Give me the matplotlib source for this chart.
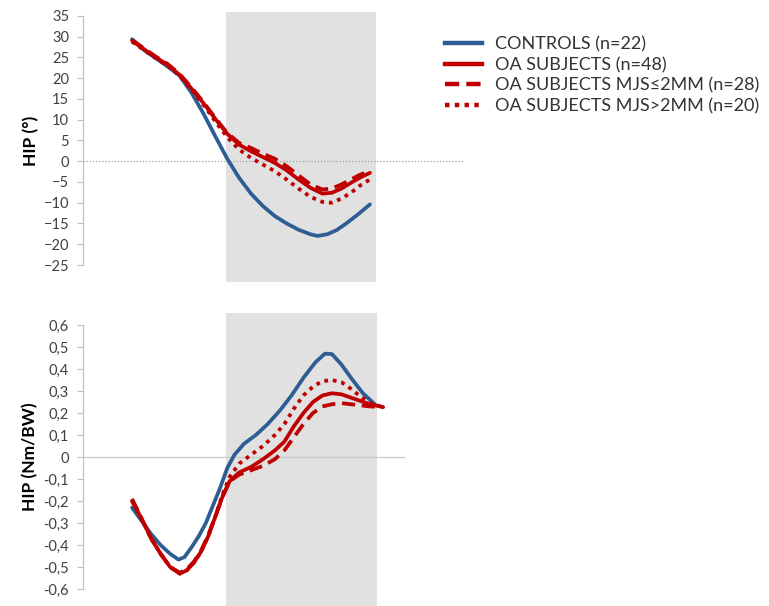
import matplotlib
matplotlib.use("Agg")
from matplotlib import pyplot as plt
from matplotlib.lines import Line2D

plt.rcParams['font.family'] = ['Lato', 'DejaVu Sans']

# --- data: % of cycle vs value ---
# top panel: hip angle (deg)
top_x_blue = [0, 5, 10, 15, 20, 25, 30, 35, 40, 45, 50, 55, 60, 65, 70, 75, 78, 82, 86, 90, 95, 100]
top_blue = [29.4, 26.8, 24.8, 22.8, 20.6, 16.5, 11.5, 6.0, 0.6, -4.0, -7.8, -10.8, -13.2, -15.0,
            -16.5, -17.6, -18.0, -17.6, -16.6, -15.0, -12.8, -10.4]

top_x_red = [0, 5, 10, 15, 20, 25, 30, 35, 40, 45, 50, 55, 60, 65, 70, 75, 80, 84, 88, 92, 96, 100]
top_oa = [29.0, 27.0, 25.0, 23.2, 20.8, 17.5, 14.0, 10.2, 6.6, 4.0, 2.4, 1.0, -0.4, -2.2,
          -4.4, -6.4, -7.8, -7.6, -6.6, -5.2, -3.9, -2.8]
top_le2 = [29.2, 27.2, 25.2, 23.4, 21.0, 17.8, 14.2, 10.4, 6.8, 4.4, 3.2, 1.8, 0.6, -1.2,
           -3.4, -5.6, -6.8, -6.6, -5.6, -4.4, -3.2, -2.4]
top_gt2 = [28.8, 26.8, 24.8, 23.0, 20.6, 17.2, 13.6, 9.6, 5.8, 2.8, 0.8, -0.8, -2.4, -4.4,
           -6.6, -8.6, -9.8, -10.0, -9.0, -7.6, -5.8, -4.4]

# bottom panel: hip moment (Nm/BW)
bot_x_blue = [0, 4, 8, 12, 16, 19.5, 22, 25, 28, 31, 34, 37, 40, 43, 47, 52, 57, 62, 67, 72,
              77, 81, 84, 88, 92, 97, 102]
bot_blue = [-0.23, -0.29, -0.35, -0.40, -0.44, -0.466, -0.455, -0.41, -0.36, -0.30, -0.22, -0.14,
            -0.05, 0.01, 0.06, 0.10, 0.15, 0.21, 0.28, 0.36, 0.43, 0.47, 0.468, 0.42, 0.36,
            0.29, 0.24]

bot_x_red = [0, 4, 8, 12, 16, 20, 23, 26, 29, 32, 35, 38, 41, 45, 50, 55, 60, 64, 68, 72, 76,
             80, 84, 88, 92, 96, 100, 105.5]
bot_oa = [-0.20, -0.28, -0.37, -0.44, -0.50, -0.53, -0.515, -0.48, -0.43, -0.36, -0.27, -0.18,
          -0.11, -0.07, -0.045, -0.01, 0.03, 0.07, 0.14, 0.20, 0.25, 0.28, 0.29, 0.285, 0.27,
          0.255, 0.24, 0.227]
bot_le2 = [-0.19, -0.28, -0.37, -0.44, -0.50, -0.525, -0.51, -0.475, -0.425, -0.355, -0.27,
           -0.18, -0.11, -0.08, -0.06, -0.04, -0.01, 0.03, 0.09, 0.15, 0.20, 0.23, 0.24, 0.245,
           0.24, 0.235, 0.23, 0.227]
bot_gt2 = [-0.20, -0.28, -0.37, -0.44, -0.50, -0.53, -0.515, -0.48, -0.43, -0.36, -0.27, -0.17,
           -0.09, -0.03, 0.01, 0.05, 0.10, 0.15, 0.22, 0.28, 0.32, 0.345, 0.35, 0.34, 0.31,
           0.275, 0.245, 0.227]

labels = ["CONTROLS (n=22)", "OA SUBJECTS (n=48)",
          "OA SUBJECTS MJS\u22642MM (n=28)", "OA SUBJECTS MJS>2MM (n=20)"]

blue = '#2e5d94'
red = '#c00000'
grey = '#bfbfbf'
txt = '#404040'
LW = 2.7

fig = plt.figure(figsize=(7.69, 6.06), dpi=100)
ax1 = fig.add_axes([0.108, 0.5627, 0.494, 0.411])
ax2 = fig.add_axes([0.108, 0.028, 0.4187, 0.4356])

def style(ax):
    for s in ['top', 'right', 'bottom']:
        ax.spines[s].set_visible(False)
    ax.spines['left'].set_color(grey)
    ax.tick_params(axis='y', colors=grey, labelcolor=txt, labelsize=10.5, length=4, pad=6)
    ax.set_xticks([])

# top panel
ax1.axvspan(39.5, 102.5, ymin=-0.07, ymax=1.016, color='#e1e1e1', lw=0, clip_on=False, zorder=0)
ax1.axhline(0, color='#a0a0a0', lw=0.9, ls=(0, (1, 1.5)), zorder=1)
ax1.plot(top_x_blue, top_blue, color=blue, lw=LW, solid_capstyle='round', solid_joinstyle='round')
ax1.plot(top_x_red, top_oa, color=red, lw=LW, solid_capstyle='round', solid_joinstyle='round')
ax1.plot(top_x_red, top_le2, color=red, lw=LW, ls=(0, (3.5, 1.8)))
ax1.plot(top_x_red, top_gt2, color=red, lw=LW, ls=(0, (1, 1.3)))
ax1.set_xlim(-20.6, 139.1)
ax1.set_ylim(-25, 35)
ax1.set_yticks(range(-25, 36, 5))
style(ax1)
ax1.set_ylabel("HIP (\u00b0)", fontsize=12.5, fontweight='bold', labelpad=3)

# bottom panel
ax2.axvspan(39.5, 103.0, ymin=-0.1, ymax=1.045, color='#e1e1e1', lw=0, clip_on=False, zorder=0)
ax2.axhline(0, color='#c8c8c8', lw=0.9, zorder=1)
ax2.plot(bot_x_blue, bot_blue, color=blue, lw=LW, solid_capstyle='round', solid_joinstyle='round')
ax2.plot(bot_x_red, bot_oa, color=red, lw=LW, solid_capstyle='round', solid_joinstyle='round')
ax2.plot(bot_x_red, bot_le2, color=red, lw=LW, ls=(0, (3.5, 1.8)))
ax2.plot(bot_x_red, bot_gt2, color=red, lw=LW, ls=(0, (1, 1.3)))
ax2.set_xlim(-20.6, 114.7)
ax2.set_ylim(-0.6, 0.6)
ticks = [i / 10 for i in range(-6, 7)]
ax2.set_yticks(ticks)
ax2.set_yticklabels([("%.1f" % t).replace('.', ',') if t != 0 else "0" for t in ticks])
style(ax2)
ax2.set_ylabel("HIP (Nm/BW)", fontsize=12.5, fontweight='bold', labelpad=4)

# legend
handles = [Line2D([], [], color=blue, lw=3.2),
           Line2D([], [], color=red, lw=3.2),
           Line2D([], [], color=red, lw=3.2, ls=(0, (3.2, 1.6))),
           Line2D([], [], color=red, lw=3.2, ls=(0, (1, 1.2)))]
leg = fig.legend(handles, labels, loc='upper left', bbox_to_anchor=(0.558, 0.967),
                 frameon=False, fontsize=13, handlelength=2.05, handletextpad=0.7,
                 labelspacing=0.25, labelcolor='#333333')

fig.savefig("out.png", dpi=100)
